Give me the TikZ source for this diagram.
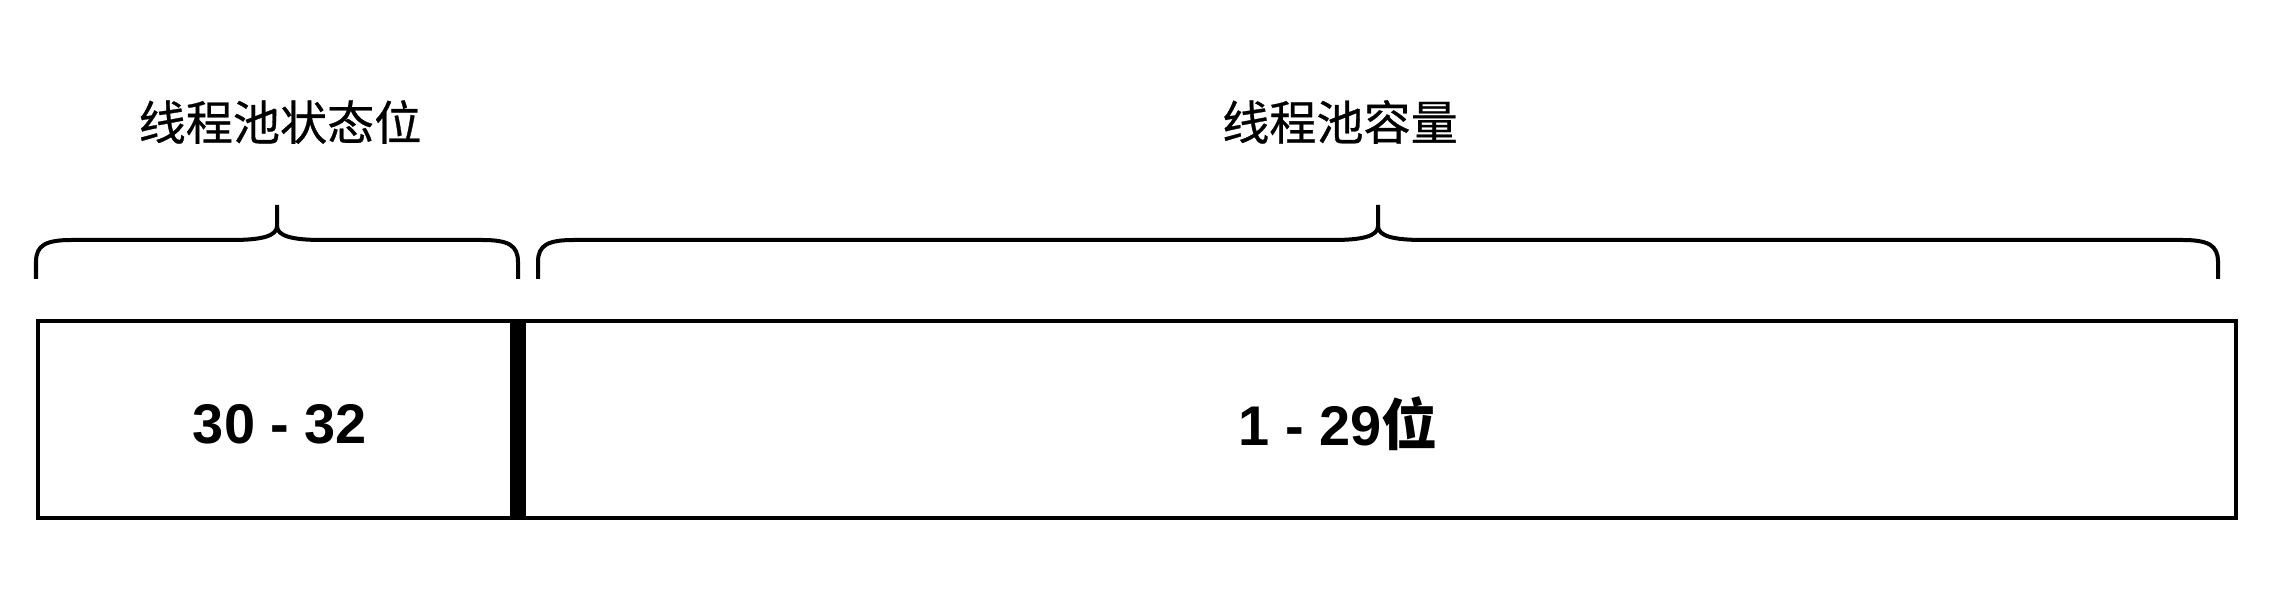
\documentclass[tikz,border=0pt]{standalone}
\usepackage{fontspec}
\setmainfont{Liberation Sans}
\newfontfamily\cjk{Noto Sans CJK SC}
\newfontfamily\cjkmed[FakeBold=0.6]{Noto Sans CJK SC}
\begin{document}
\begin{tikzpicture}[x=0.01cm,y=-0.01cm,
  bracestyle/.style={line width=0.04cm, line cap=butt},
  boxstyle/.style={line width=0.04cm},
  toplabel/.style={font=\cjkmed\fontsize{13.4pt}{16pt}\selectfont, inner sep=0pt},
  boxlabel/.style={font=\bfseries\fontsize{15.9pt}{19pt}\selectfont, inner sep=0pt}]
\useasboundingbox[fill=white] (0,0) rectangle (2288,592);
% labels
\node[toplabel] (lstate) at (280,122) {线程池状态位};
\node[toplabel] (lcap) at (1340,122) {线程池容量};
% left brace
\draw[bracestyle] (36,279) -- (36,262) .. controls (36,245) and (46,240) .. (72,240) -- (232,240)
  .. controls (262,240) and (277,236) .. (277,226) -- (277,205);
\draw[bracestyle] (277,226) .. controls (277,236) and (292,240) .. (322,240) -- (482,240)
  .. controls (508,240) and (518,245) .. (518,262) -- (518,279);
% right brace
\draw[bracestyle] (538,279) -- (538,262) .. controls (538,245) and (548,240) .. (574,240) -- (1333,240)
  .. controls (1363,240) and (1378,236) .. (1378,226) -- (1378,205);
\draw[bracestyle] (1378,226) .. controls (1378,236) and (1393,240) .. (1423,240) -- (2182,240)
  .. controls (2208,240) and (2218,245) .. (2218,262) -- (2218,279);
% boxes
\node[boxstyle, draw, minimum width=2202*0.01cm-0.04cm, minimum height=201*0.01cm-0.04cm, inner sep=0pt, anchor=north west] (bar) at (36,319) {};
\fill (510,319) rectangle (526,520);
\node[boxlabel] (n1) at (280,424) {30 - 32};
\node[boxlabel] (n2) at (1338,424) {1 - 29{\cjk\bfseries 位}};
\end{tikzpicture}
\end{document}
